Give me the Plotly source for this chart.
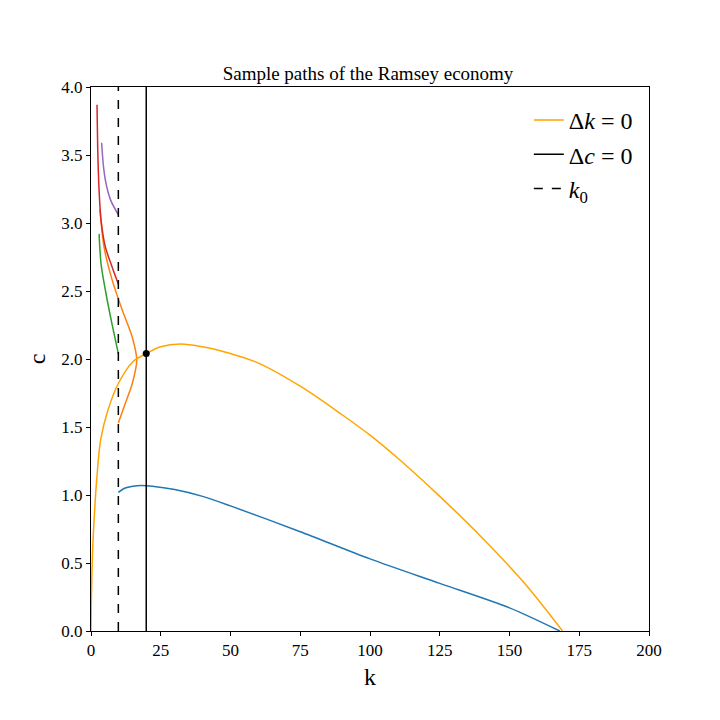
import plotly.graph_objects as go

# Delta k = 0 locus
dk_k = [0, 0.2, 0.6, 1.2, 2, 3.5, 6, 9.8, 15, 19.8, 25, 32, 40, 50, 60, 75, 90, 100, 110, 125, 140, 155, 169]
dk_c = [0, 0.3, 0.6, 0.85, 1.1, 1.41, 1.62, 1.82, 1.98, 2.04, 2.09, 2.11, 2.09, 2.04, 1.97, 1.8, 1.59, 1.44, 1.27, 0.99, 0.69, 0.36, 0]
# sample paths
blue_k = [9.8, 12, 15, 18, 22, 30, 40, 50, 75, 100, 125, 150, 168]
blue_c = [1.02, 1.05, 1.065, 1.07, 1.065, 1.04, 0.99, 0.92, 0.73, 0.53, 0.35, 0.17, 0]
org_k = [3.2, 4.7, 7.6, 11.2, 14.8, 16.4, 14.8, 12.4, 9.8]
org_c = [3.10, 2.82, 2.58, 2.36, 2.16, 1.99, 1.82, 1.68, 1.53]
red_k = [2.15, 2.4, 2.9, 3.6, 5.2, 7.5, 9.8]
red_c = [3.87, 3.55, 3.24, 3.02, 2.82, 2.68, 2.55]
grn_k = [2.9, 3.6, 5.2, 7.5, 9.8]
grn_c = [2.92, 2.7, 2.50, 2.26, 2.04]
pur_k = [3.8, 4.4, 5.2, 7.0, 9.8]
pur_c = [3.59, 3.43, 3.31, 3.17, 3.06]
k0 = 9.8
kstar = 19.8
cstar = 2.04

fig = go.Figure()
for xs, ys, col in [(blue_k, blue_c, "#1f77b4"), (org_k, org_c, "#ff7f0e"), (grn_k, grn_c, "#2ca02c"),
                    (red_k, red_c, "#d62728"), (pur_k, pur_c, "#9467bd")]:
    fig.add_trace(go.Scatter(x=xs, y=ys, mode="lines", line=dict(color=col, width=1.5, shape="spline", smoothing=0.8), showlegend=False))
fig.add_trace(go.Scatter(x=dk_k, y=dk_c, mode="lines", line=dict(color="orange", width=1.5, shape="spline"), name="Δ<i>k</i> = 0"))
fig.add_trace(go.Scatter(x=[kstar, kstar], y=[0, 4], mode="lines", line=dict(color="black", width=1.5), name="Δ<i>c</i> = 0"))
fig.add_trace(go.Scatter(x=[k0, k0], y=[0, 4], mode="lines", line=dict(color="black", width=1.5, dash="dash"), name="<i>k</i><sub>0</sub>"))
fig.add_trace(go.Scatter(x=[kstar], y=[cstar], mode="markers", marker=dict(color="black", size=7), showlegend=False))

ax = dict(showgrid=False, zeroline=False, showline=True, mirror=True, linecolor="black", ticks="outside",
          tickcolor="black", ticklen=4, tickfont=dict(size=17))
fig.update_layout(
    width=720, height=720, plot_bgcolor="white", paper_bgcolor="white",
    font=dict(family="Liberation Serif", color="black"),
    margin=dict(l=83, r=79, t=79, b=97),
    title=dict(text="Sample paths of the Ramsey economy", x=0.5, xanchor="center", y=0.9, yanchor="bottom", font=dict(size=19)),
    xaxis=dict(range=[0, 200], tickvals=[0, 25, 50, 75, 100, 125, 150, 175, 200], title=dict(text="k", font=dict(size=24), standoff=8), **ax),
    yaxis=dict(range=[0, 4], tickvals=[0, 0.5, 1, 1.5, 2, 2.5, 3, 3.5, 4], tickformat=".1f",
               title=dict(text="c", font=dict(size=24), standoff=8), **ax),
    legend=dict(x=0.98, y=0.98, xanchor="right", yanchor="top", font=dict(size=24), bgcolor="rgba(0,0,0,0)"),
)
fig.update_yaxes(title=dict(text="c"), tickangle=0)
fig.write_html("out.html")
